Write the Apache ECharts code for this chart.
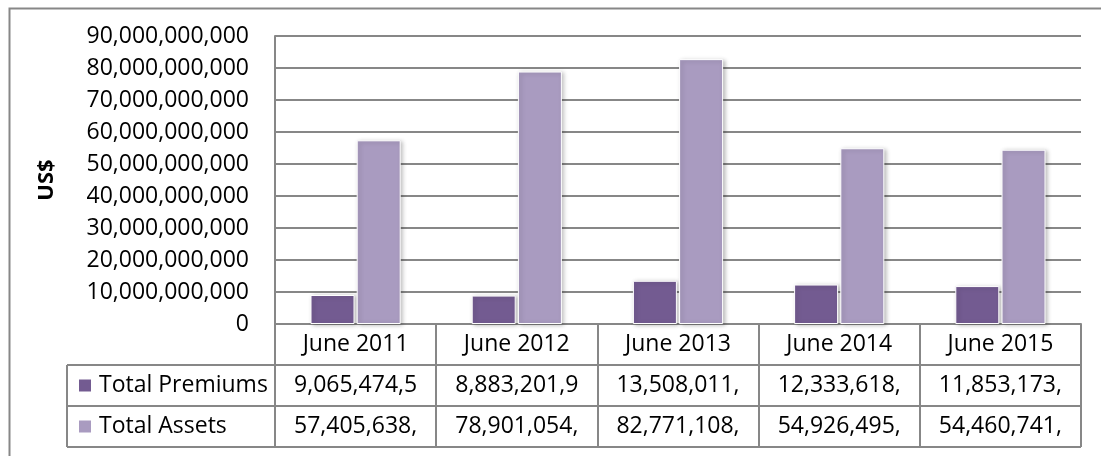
<!DOCTYPE html>
<html>
<head>
<meta charset="utf-8">
<script src="https://cdn.jsdelivr.net/npm/echarts@6/dist/echarts.min.js"></script>
<style>html,body{margin:0;padding:0;background:#fff;}#c{width:1101px;height:456px;}</style>
</head>
<body>
<div id="c"></div>
<script>
const categories = ['June 2011', 'June 2012', 'June 2013', 'June 2014', 'June 2015'];
const seriesNames = ['Total Premiums', 'Total Assets'];
const totalPremiums = [9065474500, 8883201900, 13508011000, 12333618000, 11853173000];
const totalAssets = [57405638000, 78901054000, 82771108000, 54926495000, 54460741000];
const yAxisTitle = 'US$';
const yMax = 90000000000;
const yInterval = 10000000000;

const FONT = '"Open Sans", "Noto Sans", sans-serif';
const FS = 23;
const GRAY = '#878787';
const TEXT = '#000000';
const COLORS = ['#735B91', '#A99BC0'];

const measureCtx = document.createElement('canvas').getContext('2d');
measureCtx.font = FS + 'px "Open Sans"';
function fmt(v) { return Math.round(v).toLocaleString('en-US'); }
function clip(str, maxW) {
  let s = str;
  while (s.length > 1 && measureCtx.measureText(s).width > maxW) s = s.slice(0, -1);
  return s;
}
const CELL_TEXT_W = 130;

const chart = echarts.init(document.getElementById('c'), null, {renderer: 'canvas'});

const L = 275, R = 20, T = 36, B = 132;
const W = 1101, H = 456;
const plotBottom = H - B;
const rowH = 41;
const headerLeft = 67;
const tableRight = W - R;
const LEG_H = 24;

function legendFor(i) {
  return {
    orient: 'vertical',
    left: 77,
    top: plotBottom + rowH * (i + 1) + rowH / 2 - LEG_H / 2,
    padding: 0,
    data: [seriesNames[i]],
    icon: 'rect',
    itemWidth: 14,
    itemHeight: 14,
    textStyle: {fontFamily: FONT, fontSize: FS, color: TEXT, lineHeight: LEG_H, padding: [0, 0, 0, 2]},
    selectedMode: false
  };
}

chart.setOption({
  animation: false,
  backgroundColor: '#ffffff',
  textStyle: {fontFamily: FONT},
  grid: {left: L, right: R, top: T, bottom: B, containLabel: false},
  legend: [legendFor(0), legendFor(1)],
  xAxis: {
    type: 'category',
    data: categories,
    boundaryGap: true,
    axisLine: {show: true, lineStyle: {color: GRAY, width: 2}},
    axisTick: {show: true, inside: false, length: rowH * 3, interval: 0, lineStyle: {color: GRAY, width: 2}},
    splitLine: {show: false},
    axisLabel: {
      interval: 0,
      margin: 0,
      color: TEXT,
      formatter: function (value, idx) {
        return '{r|' + value + '}\n{r|' + clip(fmt(totalPremiums[idx]), CELL_TEXT_W) + '}\n{r|' + clip(fmt(totalAssets[idx]), CELL_TEXT_W) + '}';
      },
      rich: {
        r: {fontFamily: FONT, fontSize: FS, color: TEXT, lineHeight: rowH, height: rowH, align: 'center', verticalAlign: 'middle'}
      }
    }
  },
  yAxis: {
    type: 'value',
    min: 0,
    max: yMax,
    interval: yInterval,
    name: yAxisTitle,
    nameLocation: 'middle',
    nameRotate: 90,
    nameGap: L - 58,
    nameTextStyle: {fontFamily: FONT, fontSize: 22, fontWeight: 'bold', color: TEXT},
    axisLine: {show: true, lineStyle: {color: GRAY, width: 2}},
    axisTick: {show: false},
    splitLine: {show: true, lineStyle: {color: GRAY, width: 2}},
    axisLabel: {
      margin: 26,
      fontFamily: FONT,
      fontSize: FS,
      color: TEXT,
      formatter: function (v) { return fmt(v); }
    }
  },
  series: [
    {
      name: seriesNames[0],
      type: 'bar',
      data: totalPremiums,
      barWidth: 44,
      barGap: '5%',
      itemStyle: {color: COLORS[0], borderColor: '#ffffff', borderWidth: 1, shadowColor: 'rgba(0,0,0,0.25)', shadowBlur: 4, shadowOffsetX: 2, shadowOffsetY: 1}
    },
    {
      name: seriesNames[1],
      type: 'bar',
      data: totalAssets,
      barWidth: 44,
      barGap: '5%',
      itemStyle: {color: COLORS[1], borderColor: '#ffffff', borderWidth: 1, shadowColor: 'rgba(0,0,0,0.25)', shadowBlur: 4, shadowOffsetX: 2, shadowOffsetY: 1}
    }
  ],
  graphic: [
    {type: 'rect', left: 7, top: 6, shape: {x: 0, y: 0, width: 1200, height: 600}, style: {fill: 'none', stroke: GRAY, lineWidth: 2}, silent: true, z: -1},
    {type: 'line', shape: {x1: headerLeft, y1: plotBottom + rowH, x2: tableRight, y2: plotBottom + rowH}, style: {stroke: GRAY, lineWidth: 2}, silent: true},
    {type: 'line', shape: {x1: headerLeft, y1: plotBottom + rowH * 2, x2: tableRight, y2: plotBottom + rowH * 2}, style: {stroke: GRAY, lineWidth: 2}, silent: true},
    {type: 'line', shape: {x1: headerLeft, y1: plotBottom + rowH * 3, x2: tableRight, y2: plotBottom + rowH * 3}, style: {stroke: GRAY, lineWidth: 2}, silent: true},
    {type: 'line', shape: {x1: headerLeft, y1: plotBottom + rowH, x2: headerLeft, y2: plotBottom + rowH * 3}, style: {stroke: GRAY, lineWidth: 2}, silent: true}
  ]
});
</script>
</body>
</html>
